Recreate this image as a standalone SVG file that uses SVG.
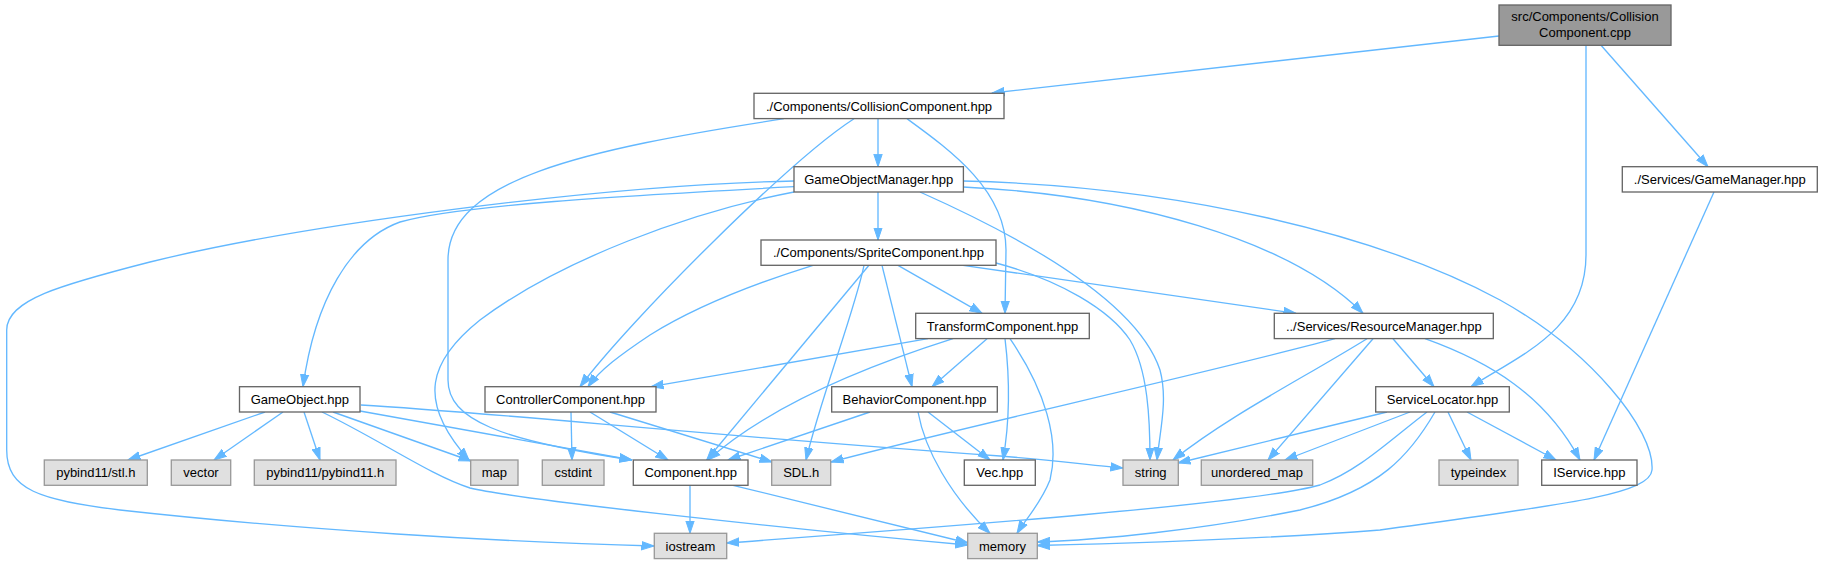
<svg xmlns="http://www.w3.org/2000/svg" width="1823" height="564" viewBox="0 0 1823 564">
<style>
.n rect{fill:#ffffff;stroke:#666666;stroke-width:1.33}
.x rect{fill:#e0e0e0;stroke:#999999;stroke-width:1.33}
.r rect{fill:#999999;stroke:#666666;stroke-width:1.33}
text{font-family:"Liberation Sans",Arial,Helvetica,sans-serif;font-size:13px;fill:#000000;text-anchor:middle}
#edges path{fill:none;stroke:#63b8ff;stroke-width:1.33;marker-end:url(#ah)}
</style>
<defs>
<marker id="ah" markerUnits="userSpaceOnUse" markerWidth="13" markerHeight="10" viewBox="0 0 13 10" refX="12.5" refY="5" orient="auto">
<path d="M0,0.8 L12.5,5 L0,9.2 Z" fill="#63b8ff" stroke="#63b8ff" stroke-width="1"/>
</marker>
</defs>
<rect width="1823" height="564" fill="#ffffff"/>
<g id="edges">
<path d="M1499,36 L992,93"/>
<path d="M1586,45.3 L1586,255 C1586,330 1520,355 1471,386.7"/>
<path d="M1601,45.3 L1708,166.7"/>
<path d="M878,118.7 L878,166.7"/>
<path d="M854,118.7 C790,160 630,320 580,386.7"/>
<path d="M784,118.7 C580,150 448,180 448,260 L448,380 C448,420 500,440 632,460"/>
<path d="M907,118.7 C950,150 1006,190 1006,250 L1005,313.3"/>
<path d="M878,192 L878,240"/>
<path d="M794,186.7 C620,196 460,205 400,222 C350,240 315,300 303,386.7"/>
<path d="M794,181 C600,185 300,225 150,262 C60,285 6.7,300 6.7,330 L6.7,450 C6.7,490 40,500 120,510 C300,530 500,542 654,546"/>
<path d="M794,192 C690,212 560,260 480,320 C430,360 415,400 469,460"/>
<path d="M920,192 C1050,250 1140,310 1160,370 C1168,400 1160,430 1157,460"/>
<path d="M963,187 C1130,195 1290,240 1363,313.3"/>
<path d="M963,181 C1180,186 1380,235 1500,300 C1590,350 1655,430 1652,470 C1650,495 1560,505 1380,530 C1250,540 1100,544 1037.3,545.5"/>
<path d="M813,265.3 C750,285 690,310 650,335 C620,355 600,370 588,386.7"/>
<path d="M869,265.3 L706.7,460"/>
<path d="M864,265.3 C855,310 820,400 806,460"/>
<path d="M882,265.3 L912,386.7"/>
<path d="M898,265.3 L982,313.3"/>
<path d="M963,265.3 L1296,313.3"/>
<path d="M996,263 C1060,280 1110,310 1130,340 C1148,370 1150,420 1150,460"/>
<path d="M928,338.7 L651,386.7"/>
<path d="M953,338.7 C870,365 770,405 708,460"/>
<path d="M987,338.7 L932,386.7"/>
<path d="M1005,338.7 C1010,380 1010,420 1003,460"/>
<path d="M1010,338.7 C1045,390 1060,440 1050,480 C1040,505 1025,520 1017,533.3"/>
<path d="M1335,338.7 C1200,375 950,430 831,462"/>
<path d="M1367,338.7 C1300,380 1230,415 1173,460"/>
<path d="M1373,338.7 L1268,460"/>
<path d="M1393,338.7 L1434,386.7"/>
<path d="M1425,338.7 C1490,362 1545,395 1580,460"/>
<path d="M1387,412 L1178,463"/>
<path d="M1410,412 L1285,460"/>
<path d="M1427,412 C1390,440 1360,470 1320,485 C1250,505 900,530 726.7,543"/>
<path d="M1435,412 C1410,455 1380,490 1300,510 C1200,530 1100,540 1037.3,542"/>
<path d="M1448,412 L1471,460"/>
<path d="M1467,412 L1556,460"/>
<path d="M1714,192 L1594,460"/>
<path d="M265,412 L128,460"/>
<path d="M283,412 L214,460"/>
<path d="M304,412 L320,460"/>
<path d="M333,412 L471,461"/>
<path d="M322,412 C380,440 430,475 470,488 C520,500 800,530 967.7,545"/>
<path d="M360,411 L632,460"/>
<path d="M361,405 C500,413 700,435 1000,456 C1050,460 1090,465 1123,468"/>
<path d="M571,412 L572,460"/>
<path d="M590,412 L668,460"/>
<path d="M610,412 L772,462"/>
<path d="M690,485.3 L690,533.3"/>
<path d="M733,485.3 L968,543"/>
<path d="M870,412 L728,460"/>
<path d="M928,412 L990,460"/>
<path d="M918,412 C925,450 950,495 990,533.3"/>
</g>
<g id="node_cpp" class="r"><rect x="1499" y="5" width="172" height="40.3"/><text x="1585" y="21">src/Components/Collision</text><text x="1585" y="37">Component.cpp</text></g>
<g id="node_collision_hpp" class="n"><rect x="754" y="93.3" width="250" height="25.3"/><text x="879" y="110.6">./Components/CollisionComponent.hpp</text></g>
<g id="node_gamemanager" class="n"><rect x="1622.3" y="166.7" width="195" height="25.3"/><text x="1719.8" y="184">./Services/GameManager.hpp</text></g>
<g id="node_gameobjectmanager" class="n"><rect x="794" y="166.7" width="169.4" height="25.3"/><text x="878.7" y="184">GameObjectManager.hpp</text></g>
<g id="node_sprite" class="n"><rect x="761" y="240" width="235" height="25.3"/><text x="878.5" y="257.3">./Components/SpriteComponent.hpp</text></g>
<g id="node_transform" class="n"><rect x="915.7" y="313.3" width="173.6" height="25.3"/><text x="1002.5" y="330.6">TransformComponent.hpp</text></g>
<g id="node_resource" class="n"><rect x="1274.3" y="313.3" width="219" height="25.3"/><text x="1383.8" y="330.6">../Services/ResourceManager.hpp</text></g>
<g id="node_gameobject" class="n"><rect x="239.5" y="386.7" width="120.5" height="25.3"/><text x="299.8" y="404">GameObject.hpp</text></g>
<g id="node_controller" class="n"><rect x="485" y="386.7" width="171" height="25.3"/><text x="570.5" y="404">ControllerComponent.hpp</text></g>
<g id="node_behavior" class="n"><rect x="831.7" y="386.7" width="165.6" height="25.3"/><text x="914.5" y="404">BehaviorComponent.hpp</text></g>
<g id="node_servicelocator" class="n"><rect x="1375.7" y="386.7" width="133.6" height="25.3"/><text x="1442.5" y="404">ServiceLocator.hpp</text></g>
<g id="node_pybind_stl" class="x"><rect x="44.3" y="460" width="103" height="25.3"/><text x="95.8" y="477.3">pybind11/stl.h</text></g>
<g id="node_vector" class="x"><rect x="171.3" y="460" width="59.4" height="25.3"/><text x="201" y="477.3">vector</text></g>
<g id="node_pybind11" class="x"><rect x="254.3" y="460" width="141.7" height="25.3"/><text x="325.2" y="477.3">pybind11/pybind11.h</text></g>
<g id="node_map" class="x"><rect x="470.7" y="460" width="47.3" height="25.3"/><text x="494.3" y="477.3">map</text></g>
<g id="node_cstdint" class="x"><rect x="542.3" y="460" width="61.7" height="25.3"/><text x="573.2" y="477.3">cstdint</text></g>
<g id="node_component" class="n"><rect x="633.3" y="460" width="114.7" height="25.3"/><text x="690.7" y="477.3">Component.hpp</text></g>
<g id="node_sdl" class="x"><rect x="771.7" y="460" width="59" height="25.3"/><text x="801.2" y="477.3">SDL.h</text></g>
<g id="node_vec" class="n"><rect x="964.3" y="460" width="71" height="25.3"/><text x="999.8" y="477.3">Vec.hpp</text></g>
<g id="node_string" class="x"><rect x="1123" y="460" width="55.3" height="25.3"/><text x="1150.7" y="477.3">string</text></g>
<g id="node_unordered_map" class="x"><rect x="1201.3" y="460" width="111.4" height="25.3"/><text x="1257" y="477.3">unordered_map</text></g>
<g id="node_typeindex" class="x"><rect x="1439" y="460" width="79" height="25.3"/><text x="1478.5" y="477.3">typeindex</text></g>
<g id="node_iservice" class="n"><rect x="1541.7" y="460" width="95.3" height="25.3"/><text x="1589.3" y="477.3">IService.hpp</text></g>
<g id="node_iostream" class="x"><rect x="654.3" y="533.3" width="72.4" height="25.3"/><text x="690.5" y="550.6">iostream</text></g>
<g id="node_memory" class="x"><rect x="967.7" y="533.3" width="69.6" height="25.3"/><text x="1002.5" y="550.6">memory</text></g>
</svg>
